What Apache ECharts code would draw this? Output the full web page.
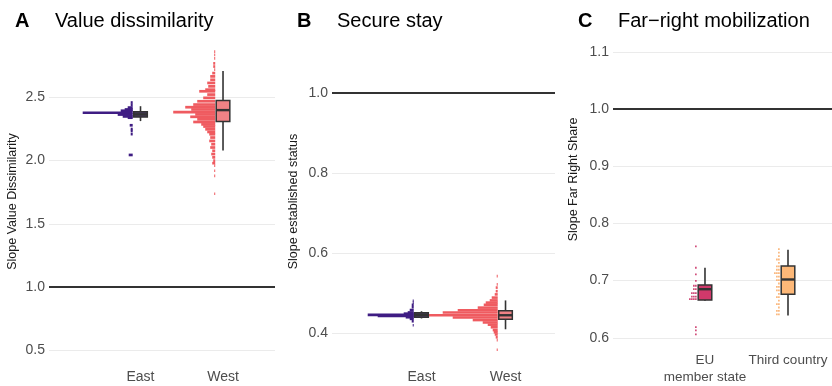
<!DOCTYPE html>
<html>
<head>
<meta charset="utf-8">
<script src="https://cdn.jsdelivr.net/npm/echarts@6/dist/echarts.min.js"></script>
<style>
  html, body { margin: 0; padding: 0; background: #ffffff; }
  #chart { width: 832px; height: 386px; }
</style>
</head>
<body>
<div id="chart"></div>
<script>
// ---- data ----
const panelLetters = ['A', 'B', 'C'];
const panelTitles = ['Value dissimilarity', 'Secure stay', 'Far\u2212right mobilization'];
const yAxisNames = ['Slope Value Dissimilarity', 'Slope established status', 'Slope Far Right Share'];
const categoriesAB = ['East', 'West'];
const categoriesC = ['EU\nmember state', 'Third country'];

const yTicksA = [0.5, 1.0, 1.5, 2.0, 2.5];
const yTicksB = [0.4, 0.6, 0.8, 1.0];
const yTicksC = [0.6, 0.7, 0.8, 0.9, 1.0, 1.1];
const referenceLine = 1.0;

// dot histograms: bin value + number of dots
const eastA_vals = [2.46, 2.44, 2.42, 2.405, 2.395, 2.379, 2.365, 2.35, 2.34, 2.28, 2.25, 2.235, 2.21, 2.045];
const eastA_counts = [2, 2, 5, 8, 12, 50, 15, 10, 5, 3, 2, 2, 2, 4];
const westA_vals = [2.863, 2.837, 2.81, 2.77, 2.745, 2.72, 2.693, 2.667, 2.64, 2.615, 2.588, 2.562, 2.549, 2.523,
  2.497, 2.47, 2.444, 2.423, 2.405, 2.384, 2.366, 2.347, 2.327, 2.306, 2.287, 2.27, 2.248, 2.227, 2.209, 2.183,
  2.156, 2.13, 2.104, 2.078, 2.052, 2.026, 2.0, 1.98, 1.96, 1.92, 1.88, 1.738];
const westA_counts = [1, 1, 1, 2, 2, 1, 3, 5, 5, 8, 7, 10, 16, 8, 12, 18, 22, 30, 24, 42, 20, 25, 18, 22, 14, 12,
  10, 8, 6, 5, 6, 4, 5, 3, 4, 3, 2, 3, 1, 1, 1, 1];

const eastB_vals = [0.481, 0.476, 0.471, 0.465, 0.458, 0.452, 0.449, 0.446, 0.443, 0.44, 0.436, 0.43, 0.42];
const eastB_counts = [1, 1, 2, 2, 4, 6, 10, 46, 36, 8, 4, 2, 1];
const westB_vals = [0.5425, 0.522, 0.514, 0.505, 0.497, 0.489, 0.482, 0.4765, 0.471, 0.464, 0.4575, 0.452, 0.445,
  0.4395, 0.433, 0.427, 0.4215, 0.415, 0.408, 0.4025, 0.397, 0.39, 0.383, 0.359];
const westB_counts = [1, 1, 2, 2, 3, 6, 8, 12, 14, 20, 40, 55, 70, 45, 25, 15, 10, 7, 5, 4, 3, 2, 1, 1];

const eu_vals = [0.76, 0.7225, 0.711, 0.6995, 0.691, 0.685, 0.678, 0.672, 0.6675, 0.6185, 0.613, 0.606];
const eu_counts = [1, 1, 1, 1, 2, 2, 3, 3, 4, 1, 1, 1];
const third_vals = [0.755, 0.749, 0.743, 0.737, 0.731, 0.725, 0.719, 0.713, 0.707, 0.701, 0.695, 0.689, 0.683,
  0.677, 0.671, 0.665, 0.659, 0.653, 0.647, 0.641];
const third_counts = [1, 1, 1, 2, 1, 2, 2, 3, 2, 2, 1, 2, 2, 1, 2, 1, 2, 1, 2, 2];

// boxplots: [min, q1, median, q3, max]
const boxA = [[2.313, 2.345, 2.366, 2.387, 2.431], [2.08, 2.31, 2.40, 2.476, 2.71]];
const boxB = [[0.437, 0.440, 0.446, 0.451, 0.455], [0.41, 0.435, 0.445, 0.456, 0.482]];
const boxC = [[0.665, 0.666, 0.685, 0.6925, 0.7225], [0.639, 0.676, 0.702, 0.7255, 0.754]];

// ---- styles ----
const FONT = 'Liberation Sans';
const dotColors = [['#3f1d83', '#ef5b60'], ['#3f1d83', '#ef5b60'], ['#c8295f', '#f9a862']];
const boxFills = [['#4a3a66', '#ef8285'], ['#4a3a66', '#ef8285'], ['#d0396b', '#fdb878']];
const BOX_HALF = 6.8;

const grids = [
  { left: 49, right: 557, top: 39, bottom: 19 },
  { left: 332, right: 277, top: 39, bottom: 19 },
  { left: 613, right: 0, top: 12, bottom: 36 }
];
const xRanges = [[-0.109, 2.63], [-0.0655, 2.589], [-0.108, 2.53]];
const yRanges = [[0.39, 2.963], [0.3234, 1.134], [0.5839, 1.1699]];
const yTicks = [yTicksA, yTicksB, yTicksC];
const xLabels = [categoriesAB, categoriesAB, categoriesC];
const xLabelSizes = [14, 14, 13.5];
const nameGaps = [30, 32, 33];
// dot drawing per panel: step between dots, dot width, row height (px)
const dotShape = [
  { step: 1, size: 1, h: 2.7 },
  { step: 1, size: 1, h: 2.6 },
  { step: 2, size: 1.4, h: 1.8 }
];

function dotRenderer(panel, color) {
  const s = dotShape[panel];
  return function (params, api) {
    const p = api.coord([api.value(0), api.value(1)]);
    const n = api.value(2);
    const right = p[0] - BOX_HALF - 1;
    if (s.step === s.size) {
      return {
        type: 'rect',
        shape: { x: right - n * s.step, y: p[1] - s.h / 2, width: n * s.step, height: s.h },
        style: { fill: color }
      };
    }
    const children = [];
    for (let i = 0; i < n; i++) {
      children.push({
        type: 'rect',
        shape: { x: right - (i + 1) * s.step, y: p[1] - s.h / 2, width: s.size, height: s.h },
        style: { fill: color }
      });
    }
    return { type: 'group', children };
  };
}

function boxRenderer(panel) {
  return function (params, api) {
    const c = api.value(0);
    const lo = api.coord([c, api.value(1)]);
    const q1 = api.coord([c, api.value(2)]);
    const med = api.coord([c, api.value(3)]);
    const q3 = api.coord([c, api.value(4)]);
    const hi = api.coord([c, api.value(5)]);
    const x = lo[0];
    return {
      type: 'group',
      children: [
        { type: 'line', shape: { x1: x, y1: hi[1], x2: x, y2: lo[1] }, style: { stroke: '#333333', lineWidth: 1.6 } },
        {
          type: 'rect',
          shape: { x: x - BOX_HALF, y: q3[1], width: 2 * BOX_HALF, height: q1[1] - q3[1] },
          style: { fill: boxFills[panel][params.dataIndex], stroke: '#333333', lineWidth: 1.5 }
        },
        { type: 'line', shape: { x1: x - BOX_HALF, y1: med[1], x2: x + BOX_HALF, y2: med[1] }, style: { stroke: '#333333', lineWidth: 2.4 } }
      ]
    };
  };
}

const dotData = [
  [[eastA_vals, eastA_counts], [westA_vals, westA_counts]],
  [[eastB_vals, eastB_counts], [westB_vals, westB_counts]],
  [[eu_vals, eu_counts], [third_vals, third_counts]]
];
const boxData = [boxA, boxB, boxC];

const series = [];
[0, 1, 2].forEach(panel => {
  dotData[panel].forEach(([vals, counts], k) => {
    series.push({
      type: 'custom',
      xAxisIndex: panel,
      yAxisIndex: panel,
      renderItem: dotRenderer(panel, dotColors[panel][k]),
      encode: { x: 0, y: 1 },
      data: vals.map((v, i) => [k + 1, v, counts[i]]),
      z: 3
    });
  });
  series.push({
    type: 'custom',
    xAxisIndex: panel,
    yAxisIndex: panel,
    renderItem: boxRenderer(panel),
    encode: { x: 0, y: [1, 2, 3, 4, 5] },
    data: boxData[panel].map((b, k) => [k + 1].concat(b)),
    z: 4,
    markLine: {
      silent: true,
      symbol: 'none',
      label: { show: false },
      lineStyle: { color: '#333333', type: 'solid', width: 2 },
      data: [{ yAxis: referenceLine }]
    }
  });
});

const chart = echarts.init(document.getElementById('chart'), null, { renderer: 'canvas' });
chart.setOption({
  animation: false,
  backgroundColor: '#ffffff',
  textStyle: { fontFamily: FONT },
  title: panelTitles.map((t, i) => ({
    text: '{l|' + panelLetters[i] + '}{t|' + t + '}',
    left: [10, 292, 573][i],
    top: 6,
    textStyle: {
      fontWeight: 'normal',
      rich: {
        l: { fontSize: 20, fontWeight: 'bold', color: '#000000', width: 40, fontFamily: FONT },
        t: { fontSize: 20, fontWeight: 'normal', color: '#000000', fontFamily: FONT }
      }
    }
  })),
  grid: grids,
  xAxis: [0, 1, 2].map(i => ({
    type: 'value',
    gridIndex: i,
    min: xRanges[i][0],
    max: xRanges[i][1],
    axisLine: { show: false },
    axisTick: { show: false, customValues: [1, 2] },
    splitLine: { show: false },
    axisLabel: {
      customValues: [1, 2],
      showMinLabel: true,
      showMaxLabel: true,
      hideOverlap: false,
      formatter: v => xLabels[i][Math.round(v) - 1],
      color: '#4d4d4d',
      fontSize: xLabelSizes[i],
      margin: 5,
      lineHeight: 17,
      fontFamily: FONT
    }
  })),
  yAxis: [0, 1, 2].map(i => ({
    type: 'value',
    gridIndex: i,
    min: yRanges[i][0],
    max: yRanges[i][1],
    name: yAxisNames[i],
    nameLocation: 'middle',
    nameGap: nameGaps[i],
    nameTextStyle: { fontSize: 12.5, color: '#1a1a1a', fontFamily: FONT },
    axisLine: { show: false },
    axisTick: { show: false, customValues: yTicks[i] },
    axisLabel: {
      customValues: yTicks[i],
      showMinLabel: true,
      showMaxLabel: true,
      formatter: v => v.toFixed(1),
      color: '#4d4d4d',
      fontSize: 14,
      margin: 4,
      fontFamily: FONT
    },
    splitLine: { show: true, lineStyle: { color: '#ebebeb', width: 1 } }
  })),
  series
});
</script>
</body>
</html>
